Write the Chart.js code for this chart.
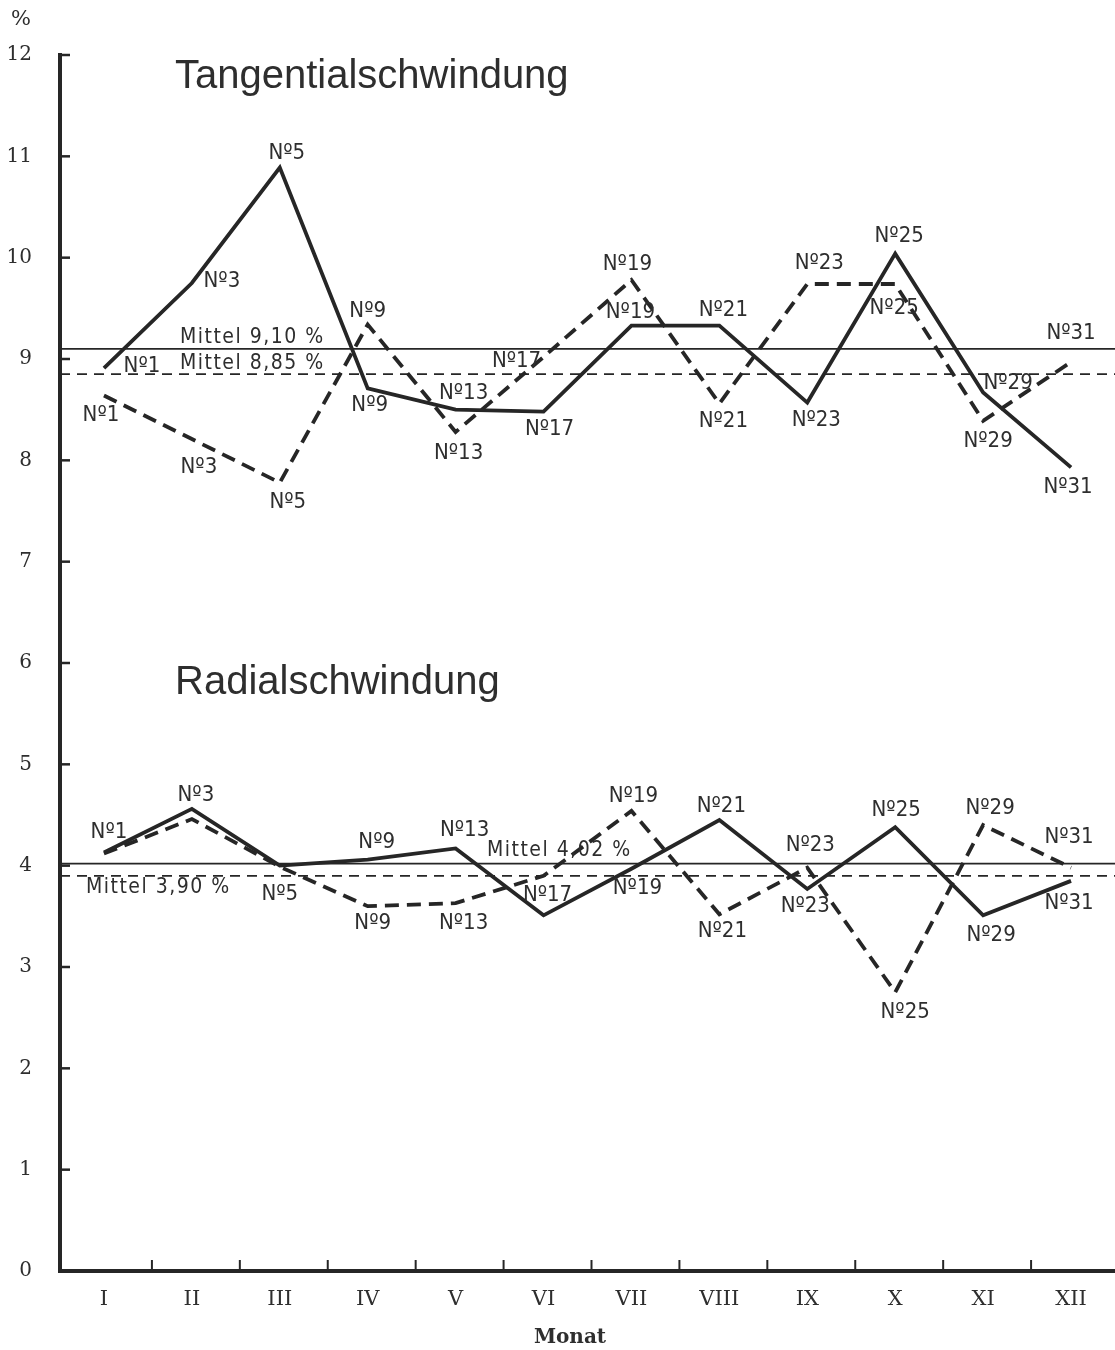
<!DOCTYPE html>
<html>
<head>
<meta charset="utf-8">
<script src="https://cdn.jsdelivr.net/npm/chart.js@4.4.1/dist/chart.umd.min.js"></script>
<style>
  html, body { margin: 0; padding: 0; background: #fff; }
  #wrap { width: 1115px; height: 1350px; }
</style>
</head>
<body>
<div id="wrap"><canvas id="schwindChart" width="1115" height="1350"></canvas></div>
<script>
// Monate und Probennummern
const monate = ["I", "II", "III", "IV", "V", "VI", "VII", "VIII", "IX", "X", "XI", "XII"];
const probenNr = [1, 3, 5, 9, 13, 17, 19, 21, 23, 25, 29, 31];

// Tangentialschwindung (%)
const tangVoll = [8.91, 9.75, 10.89, 8.71, 8.50, 8.48, 9.33, 9.33, 8.57, 10.04, 8.67, 7.93];
const tangStrich = [8.64, 8.21, 7.78, 9.34, 8.28, 9.02, 9.78, 8.56, 9.74, 9.74, 8.39, 8.97];

// Radialschwindung (%)
const radVoll = [4.13, 4.56, 4.00, 4.06, 4.17, 3.51, 3.97, 4.45, 3.77, 4.38, 3.51, 3.85];
const radStrich = [4.12, 4.46, 3.99, 3.60, 3.63, 3.90, 4.54, 3.52, 3.98, 2.75, 4.40, 3.98];

// Mittelwerte
const tangMittelVoll = 9.10;
const tangMittelStrich = 8.85;
const radMittelVoll = 4.02;
const radMittelStrich = 3.90;

const ink = "#262626";
const textInk = "#2e2e2e";

// Lage der Beschriftungen "Nº" relativ zum Punkt (dx, dy in px), null = keine
const tangVollLab = [[38, -2], [30, -2], [7, -14], [2, 17], [8, -16], [6, 18], [-1, -13], [4, -15], [9, 18], [4, -17], [25, -9], [-3, 20]];
const tangStrichLab = [[-3, 20], [7, 28], [8, 20], [0, -13], [3, 21], [-27, 4], [-4, -16], [4, 18], [12, -21], [-1, 24], [5, 20], [0, -29]];
const radVollLab = [[5, -20], [4, -14], null, [9, -17], [9, -18], [4, -20], [6, 20], [2, -14], [-2, 17], [1, -17], [8, 20], [-2, 22]];
const radStrichLab = [null, null, [0, 28], [5, 17], [8, 20], null, [2, -15], [3, 17], [3, -22], [10, 20], [7, -17], [-2, -30]];

function fmt(v) {
    return "Mittel " + v.toFixed(2).replace(".", ",") + " %";
}

// Achsen, Striche, Mittellinien und Texte
const zeichnung = {
    id: "zeichnung",
    beforeDatasetsDraw(chart) {
        const { ctx, chartArea: a, scales: { y } } = chart;
        ctx.save();
        ctx.strokeStyle = ink;
        // Mittellinien
        const mittel = [
            [tangMittelVoll, []], [tangMittelStrich, [10, 7]],
            [radMittelVoll, []], [radMittelStrich, [10, 7]]
        ];
        ctx.lineWidth = 1.7;
        mittel.forEach(([v, dash]) => {
            const py = y.getPixelForValue(v);
            ctx.setLineDash(dash);
            ctx.beginPath();
            ctx.moveTo(a.left, py);
            ctx.lineTo(a.right, py);
            ctx.stroke();
        });
        ctx.setLineDash([]);
        ctx.restore();
    },
    afterDatasetsDraw(chart) {
        const { ctx, chartArea: a, scales: { x, y } } = chart;
        ctx.save();
        ctx.strokeStyle = ink;
        ctx.fillStyle = textInk;

        // Achsen
        ctx.lineWidth = 4;
        ctx.beginPath();
        ctx.moveTo(a.left, y.getPixelForValue(12) - 2);
        ctx.lineTo(a.left, a.bottom);
        ctx.lineTo(a.right, a.bottom);
        ctx.stroke();

        // Striche an der y-Achse
        ctx.lineWidth = 2.5;
        y.ticks.forEach(t => {
            if (t.value === 0) return;
            const py = y.getPixelForValue(t.value);
            ctx.beginPath();
            ctx.moveTo(a.left, py);
            ctx.lineTo(a.left + 10, py);
            ctx.stroke();
        });

        // Striche an der x-Achse (zwischen den Monaten)
        ctx.lineWidth = 2;
        for (let i = 1; i < monate.length; i++) {
            const px = (x.getPixelForValue(i - 1) + x.getPixelForValue(i)) / 2 + 4;
            ctx.beginPath();
            ctx.moveTo(px, a.bottom);
            ctx.lineTo(px, a.bottom - 11);
            ctx.stroke();
        }

        // Titel
        ctx.textAlign = "left";
        ctx.textBaseline = "alphabetic";
        ctx.font = "40px 'Liberation Sans'";
        ctx.fillText("Tangentialschwindung", 175, 88);
        ctx.fillText("Radialschwindung", 175, 694);

        // Mittel-Beschriftungen
        ctx.font = "21px 'DejaVu Sans Condensed'";
        ctx.letterSpacing = "1.5px";
        ctx.textBaseline = "middle";
        const mLab = [
            [tangMittelVoll, 180, -11], [tangMittelStrich, 180, -11],
            [radMittelVoll, 487, -13], [radMittelStrich, 86, 12]
        ];
        mLab.forEach(([v, px, dy]) => {
            ctx.fillText(fmt(v), px, y.getPixelForValue(v) + dy);
        });
        ctx.letterSpacing = "0px";

        // Nummern an den Punkten
        ctx.font = "22px 'DejaVu Sans Condensed'";
        ctx.textAlign = "center";
        const reihen = [
            [tangVoll, tangVollLab], [tangStrich, tangStrichLab],
            [radVoll, radVollLab], [radStrich, radStrichLab]
        ];
        reihen.forEach(([werte, lage]) => {
            werte.forEach((v, i) => {
                if (!lage[i]) return;
                const px = x.getPixelForValue(i) + lage[i][0];
                const py = y.getPixelForValue(v) + lage[i][1];
                ctx.fillText("N\u00BA" + probenNr[i], px, py);
            });
        });

        // Einheit und Achsentitel
        ctx.font = "21px 'DejaVu Serif'";
        ctx.fillText("%", 21, 20);
        ctx.font = "bold 20px 'DejaVu Serif'";
        ctx.fillText("Monat", 570, 1338);
        ctx.restore();
    }
};

function linie(werte, dash) {
    return {
        data: werte,
        borderColor: ink,
        borderWidth: 3.8,
        borderDash: dash,
        pointRadius: 0,
        tension: 0,
        fill: false
    };
}

const ctx = document.getElementById("schwindChart").getContext("2d");
const schwindChart = new Chart(ctx, {
    type: "line",
    data: {
        labels: monate,
        datasets: [
            linie(tangVoll, []),
            linie(tangStrich, [14, 8]),
            linie(radVoll, []),
            linie(radStrich, [14, 8])
        ]
    },
    options: {
        responsive: false,
        animation: false,
        devicePixelRatio: 1,
        layout: { padding: { top: 55, right: 0, bottom: 0, left: 0 } },
        plugins: {
            legend: { display: false },
            tooltip: { enabled: false }
        },
        scales: {
            x: {
                type: "category",
                offset: true,
                grid: { display: false, drawTicks: false },
                border: { display: false },
                ticks: {
                    font: { family: "DejaVu Serif", size: 21 },
                    color: textInk,
                    padding: 16,
                    maxRotation: 0,
                    autoSkip: false
                },
                afterFit(s) { s.height = 79; }
            },
            y: {
                min: 0,
                max: 12,
                grid: { display: false, drawTicks: false },
                border: { display: false },
                ticks: {
                    stepSize: 1,
                    font: { family: "DejaVu Serif", size: 20 },
                    color: textInk,
                    padding: 28
                },
                afterFit(s) { s.width = 60; }
            }
        }
    },
    plugins: [zeichnung]
});
</script>
</body>
</html>
